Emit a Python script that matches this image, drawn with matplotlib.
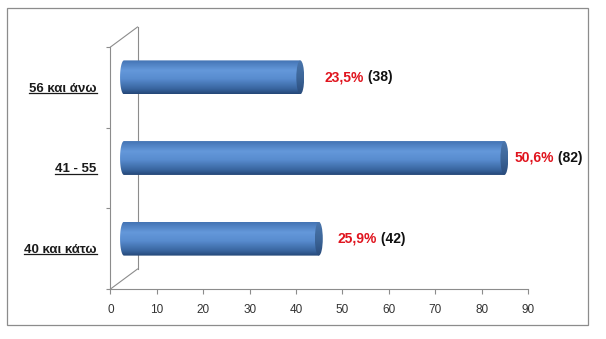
import matplotlib
matplotlib.use('Agg')
import matplotlib.pyplot as plt
import matplotlib.transforms as mtransforms
from matplotlib.patches import Rectangle, Ellipse, Polygon
from matplotlib.colors import LinearSegmentedColormap
from matplotlib.lines import Line2D
import numpy as np

plt.rcParams['font.family'] = ['Liberation Sans', 'DejaVu Sans']

# data, bottom to top
categories = ['40 και κάτω', '41 - 55', '56 και άνω']
counts = [42, 82, 38]
percents = ['25,9%', '50,6%', '23,5%']
# gap (px) between the cylinder cap and its label
label_gap = [15, 6, 20]

W, H = 606, 339
fig = plt.figure(figsize=(W / 100, H / 100), dpi=100)
# front plane of the 3d plot
ax = fig.add_axes([110.5 / W, 50 / H, 417.5 / W, 242 / H])
ax.patch.set_alpha(0)

# depth offsets in pixels: bars sit halfway, back wall at full depth
dx, dy = 27, 20
bar_tr = mtransforms.offset_copy(ax.transData, fig=fig, x=dx / 2, y=dy / 2, units='dots')

body_cmap = LinearSegmentedColormap.from_list(
    'body', [(0, '#4373B3'), (0.3, '#6498DA'), (0.55, '#588CCF'), (0.85, '#38649E'), (1, '#244676')])
cap_cmap = LinearSegmentedColormap.from_list(
    'cap', [(0, '#4A76AD'), (0.5, '#3D6699'), (1, '#2A4C7C')])

h = 0.42   # bar thickness (category units)
ew = 1.7   # ellipse width (x units)
grad = np.linspace(0, 1, 256).reshape(-1, 1)

for i, c in enumerate(counts):
    y0, y1 = i - h / 2, i + h / 2
    th = np.linspace(np.pi / 2, 3 * np.pi / 2, 40)
    verts = np.column_stack([(ew / 2) * np.cos(th), i + (h / 2) * np.sin(th)])
    verts = np.vstack([verts, [[c, y0], [c, y1]]])
    body = Polygon(verts, closed=True, transform=bar_tr, facecolor='none', edgecolor='none')
    ax.add_patch(body)
    im = ax.imshow(grad, cmap=body_cmap, aspect='auto', origin='upper',
                   extent=(-ew / 2, c, y0, y1), transform=bar_tr, zorder=2)
    im.set_clip_path(body)

    cap = Ellipse((c, i), ew, h, transform=bar_tr, facecolor='none', edgecolor='none')
    ax.add_patch(cap)
    im2 = ax.imshow(grad, cmap=cap_cmap, aspect='auto', origin='upper',
                    extent=(c - ew / 2, c + ew / 2, y0, y1), transform=bar_tr, zorder=3)
    im2.set_clip_path(cap)

    red = ax.annotate(percents[i], xy=(c + ew / 2, i), xycoords=bar_tr,
                      xytext=(label_gap[i], 0), textcoords='offset pixels',
                      color='#E0141E', fontweight='bold', fontsize=10,
                      va='center', ha='left', zorder=5)
    ax.annotate(' ({})'.format(c), xy=(1, 0), xycoords=red, va='bottom', ha='left',
                color='#111111', fontweight='bold', fontsize=10, zorder=5)

ax.set_xlim(0, 90)
ax.set_ylim(-0.5, 2.5)

# axes styling
axis_col = '#8C8C8C'
for s in ['top', 'right']:
    ax.spines[s].set_visible(False)
for s in ['left', 'bottom']:
    ax.spines[s].set_color(axis_col)
    ax.spines[s].set_linewidth(0.8)

ax.set_xticks(np.arange(0, 91, 10))
ax.tick_params(axis='x', direction='out', length=3.5, width=0.8, color=axis_col,
               labelsize=8.5, labelcolor='#333333', pad=7)
ax.set_yticks(range(len(categories)))
ax.set_yticklabels(categories, fontweight='bold', fontsize=9.5, color='#1A1A1A')
ax.set_yticks(np.arange(-0.5, 2.6, 1), minor=True)
ax.tick_params(axis='y', which='major', length=0, pad=10)
ax.tick_params(axis='y', which='minor', direction='out', length=3, width=0.8, color=axis_col)

# back wall (behind the bars) and floor/top edges
back = mtransforms.offset_copy(ax.transAxes, fig=fig, x=dx, y=dy, units='dots')
ax.plot([0, 0], [0, 1], color=axis_col, lw=0.8, transform=back, clip_on=False, zorder=1)
axw = ax.get_position().width * W
axh = ax.get_position().height * H
for yy in [0, 1]:
    ax.plot([0, dx / axw], [yy, yy + dy / axh], color=axis_col, lw=0.8,
            transform=ax.transAxes, clip_on=False, zorder=1)

# outer chart border
fig.patches.append(Rectangle((7 / W, 14 / H), 581 / W, 317 / H, transform=fig.transFigure,
                             fill=False, edgecolor='#8C8C8C', lw=0.9))

# underline the category labels
fig.canvas.draw()
r = fig.canvas.get_renderer()
for lab in ax.get_yticklabels():
    bb = lab.get_window_extent(r)
    yl = bb.y0 + 2
    fig.lines.append(Line2D([bb.x0 / W, bb.x1 / W], [yl / H, yl / H], transform=fig.transFigure,
                            color='#1A1A1A', lw=0.9))

fig.savefig('out.png', dpi=100)
